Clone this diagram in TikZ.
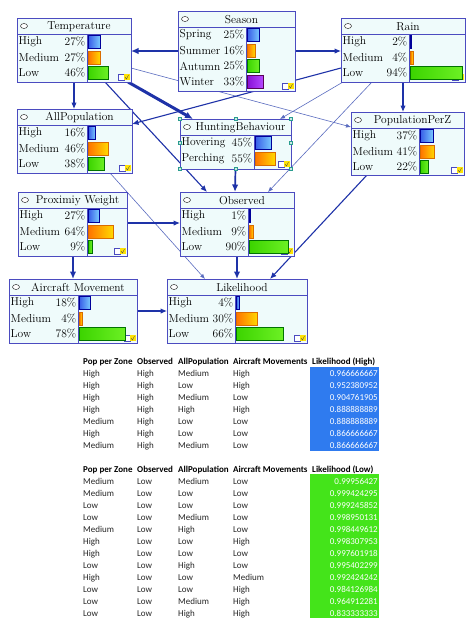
\documentclass[tikz,border=0pt]{standalone}
\usepackage{fontspec}
\newfontfamily\tabfont{Carlito}
\usetikzlibrary{arrows.meta,calc}
\definecolor{bnborder}{HTML}{4B4BC0}
\definecolor{bnfill}{HTML}{EFFBFB}
\definecolor{edgec}{HTML}{1E32A8}
\definecolor{thinc}{HTML}{5A6CC0}
\definecolor{hA}{HTML}{3A5FE8}
\definecolor{hB}{HTML}{78C8FF}
\definecolor{mA}{HTML}{FF7400}
\definecolor{mB}{HTML}{FFD800}
\definecolor{lA}{HTML}{3CD400}
\definecolor{lB}{HTML}{6CF024}
\definecolor{pA}{HTML}{8A10D8}
\definecolor{pB}{HTML}{B448FF}
\definecolor{tblue}{HTML}{2F7BEF}
\definecolor{tgreen}{HTML}{44E41A}
\definecolor{handle}{HTML}{2A9D8F}
\pgfdeclarelayer{bg}
\pgfdeclarelayer{edges}
\pgfsetlayers{bg,edges,main}
\tikzset{
  bnbox/.style={draw=bnborder, fill=bnfill, line width=0.9pt, inner sep=0pt, outer sep=0pt, rectangle},
  bnline/.style={draw=bnborder, line width=0.9pt},
  bnfont/.style={font=\fontsize{11.5}{12}\selectfont},
  rowlab/.style={bnfont, anchor=west, inner sep=0pt},
  rowpct/.style={bnfont, anchor=east, inner sep=0pt},
  titlest/.style={bnfont, inner sep=0pt},
  ovalst/.style={draw=black!80, fill=white, line width=0.5pt},
  barH/.style={draw=blue!60!black, line width=0.4pt, left color=hA, right color=hB},
  barM/.style={draw=orange!85!black, line width=0.4pt, left color=mA, right color=mB},
  barL/.style={draw=green!45!black, line width=0.4pt, left color=lA, right color=lB},
  barP/.style={draw=violet!70!black, line width=0.4pt, left color=pA, right color=pB},
  handlest/.style={draw=handle, fill=handle!25, line width=0.4pt},
  edgeThin/.style={draw=thinc, line width=0.6pt, -{Latex[length=5pt,width=4pt]}},
  edgeMed/.style={draw=edgec, line width=1.1pt, -{Latex[length=6.5pt,width=5.5pt]}},
  edgeBig/.style={draw=edgec, line width=1.7pt, -{Latex[length=7.5pt,width=6.5pt]}},
  edgeHuge/.style={draw=edgec, line width=3pt, -{Latex[length=8pt,width=7pt]}},
  thead/.style={font=\tabfont\bfseries\fontsize{9}{10}\selectfont, anchor=base west, inner sep=0pt},
  tcell/.style={font=\tabfont\fontsize{9}{10}\selectfont, text=black!85, anchor=base west, inner sep=0pt},
  tval/.style={font=\tabfont\fontsize{9}{10}\selectfont, text=white, anchor=base east, inner sep=0pt},
}
% box: #1 name, #2 x, #3 y, #4 W, #5 H, #6 label column, #7 full bar width, #8 title
\newcommand\bnbox[8]{%
  \def\bnL{#6}\def\bnF{#7}%
  \node[bnbox, minimum width=#4pt, minimum height=#5pt, anchor=north west] (#1) at (#2,#3) {};%
  \begin{scope}[shift={(#2,#3)}]%
  \draw[bnline] (0,16) -- (#4,16);%
  \draw[bnline] (#6,16) -- (#6,#5);%
  \draw[ovalst] (7,8) ellipse (3.5 and 2.5);%
  \node[titlest] (#1-title) at (#4/2+5,8.5) {#8};%
  \draw[draw=bnborder, fill=white, line width=0.5pt] (#4-13,#5-8) rectangle (#4-7,#5-2);%
  \fill[yellow!85!orange] (#4-7,#5-8) rectangle (#4-1.5,#5-2);%
  \draw[black!70, line width=0.4pt] (#4-6,#5-5) -- (#4-4.5,#5-3) -- (#4-2.5,#5-7);%
}
\newcommand\bnend{\end{scope}}
\newcommand\bnrow[4]{%
  \pgfmathsetmacro\bnyc{24+15.5*#1}%
  \pgfmathsetmacro\bnbw{max(#3*\bnF/100,0.7)}%
  \node[rowlab] at (1.5,\bnyc) {#2};%
  \node[rowpct] at (\bnL-1.5,\bnyc) {#3\%};%
  \draw[#4] (\bnL+1.5,\bnyc-6.5) rectangle ++(\bnbw,13);%
}
\begin{document}
\begin{tikzpicture}[x=1pt,y=-1pt]
\begin{pgfonlayer}{bg}
\fill[white] (0,0) rectangle (474,622);
\end{pgfonlayer}
\useasboundingbox (0,0) rectangle (474,622);

% ---------- network boxes ----------
\bnbox{temp}{17}{18}{114}{64}{70}{42}{Temperature}
 \bnrow{0}{High}{27}{barH}\bnrow{1}{Medium}{27}{barM}\bnrow{2}{Low}{46}{barL}
\bnend
\bnbox{season}{178}{11}{117}{80}{68}{47}{Season}
 \bnrow{0}{Spring}{25}{barH}\bnrow{1}{Summer}{16}{barM}\bnrow{2}{Autumn}{25}{barL}\bnrow{3}{Winter}{33}{barP}
\bnend
\bnbox{rain}{341}{18}{124}{64}{68}{55}{Rain}
 \bnrow{0}{High}{2}{barH}\bnrow{1}{Medium}{4}{barM}\bnrow{2}{Low}{94}{barL}
\bnend
\bnbox{allpop}{17}{109}{115}{64}{70}{42}{AllPopulation}
 \bnrow{0}{High}{16}{barH}\bnrow{1}{Medium}{46}{barM}\bnrow{2}{Low}{38}{barL}
\bnend
\bnbox{hunt}{180}{119}{111}{50}{74}{35}{HuntingBehaviour}
 \bnrow{0}{Hovering}{45}{barH}\bnrow{1}{Perching}{55}{barM}
 \foreach \hx/\hy in {0/0,55.5/0,111/0,0/24,111/24,0/50,55.5/50,111/50}
   \draw[handlest] (\hx-1.6,\hy-1.6) rectangle (\hx+1.6,\hy+1.6);
\bnend
\bnbox{popz}{351}{112}{113}{63}{68}{34}{PopulationPerZ}
 \bnrow{0}{High}{37}{barH}\bnrow{1}{Medium}{41}{barM}\bnrow{2}{Low}{22}{barL}
\bnend
\bnbox{prox}{18}{192}{109}{64}{69}{38}{Proximiy Weight}
 \bnrow{0}{High}{27}{barH}\bnrow{1}{Medium}{64}{barM}\bnrow{2}{Low}{9}{barL}
\bnend
\bnbox{obs}{180}{192}{114}{64}{68}{43}{Observed}
 \bnrow{0}{High}{1}{barH}\bnrow{1}{Medium}{9}{barM}\bnrow{2}{Low}{90}{barL}
\bnend
\bnbox{air}{9}{279}{128}{64}{69}{59}{Aircraft Movement}
 \bnrow{0}{High}{18}{barH}\bnrow{1}{Medium}{4}{barM}\bnrow{2}{Low}{78}{barL}
\bnend
\bnbox{lik}{167}{279}{140}{64}{68}{70}{Likelihood}
 \bnrow{0}{High}{4}{barH}\bnrow{1}{Medium}{30}{barM}\bnrow{2}{Low}{66}{barL}
\bnend

% ---------- connectors ----------
\begin{pgfonlayer}{edges}
\draw[edgeBig]  ($(season.north west)+(0,40)$) -- ($(temp.north west)+(114,33)$);
\draw[edgeMed]  ($(season.north west)+(117,40)$) -- ($(rain.north west)+(0,33)$);
\draw[edgeMed]  ($(temp.north west)+(57,64)$) -- ($(allpop.north west)+(57,0)$);
\draw[edgeHuge] ($(temp.north west)+(111,64)$) -- ($(hunt.north west)+(13,0)$);
\draw[edgeMed]  ($(temp.north west)+(88,64)$) -- ($(obs.north west)+(27,0)$);
\draw[edgeThin] ($(temp.north west)+(114,50)$) -- ($(popz.north west)+(0,15)$);
\draw[edgeMed]  ($(rain.north west)+(0,50)$) -- ($(allpop.north west)+(115,15)$);
\draw[edgeThin] ($(rain.north west)+(2,64)$) -- ($(hunt.north west)+(100,0)$);
\draw[edgeMed]  ($(rain.north west)+(62,64)$) -- ($(popz.north west)+(52,0)$);
\draw[edgeThin] ($(rain.north west)+(31,64)$) -- ($(obs.north west)+(88,0)$);
\draw[edgeBig]  ($(hunt.north west)+(55.5,50)$) -- ($(obs.north west)+(55,0)$);
\draw[edgeThin] ($(allpop.north west)+(93,64)$) -- ($(lik.north west)+(38,0)$);
\draw[edgeMed]  ($(prox.north west)+(109,31)$) -- ($(obs.north west)+(0,31)$);
\draw[edgeBig]  ($(prox.north west)+(55,64)$) -- ($(air.north west)+(64,0)$);
\draw[edgeMed]  ($(air.north west)+(128,32)$) -- ($(lik.north west)+(0,32)$);
\draw[edgeBig]  ($(obs.north west)+(57,64)$) -- ($(lik.north west)+(70,0)$);
\draw[edgeMed]  ($(popz.north west)+(16,63)$) -- ($(lik.north west)+(103,0)$);
\end{pgfonlayer}

% ---------- table 1 ----------
\fill[tblue] (310,367) rectangle (379,451);
\node[thead] (h1a) at (83,364) {Pop per Zone};
\node[thead] (h1b) at (137,364) {Observed};
\node[thead] (h1c) at (178,364) {AllPopulation};
\node[thead] (h1d) at (233,364) {Aircraft Movements};
\node[thead] (h1e) at (312,364) {Likelihood (High)};
\foreach [count=\i from 0] \a/\b/\c/\d/\v in {
  High/High/Medium/High/0.966666667,
  High/High/Low/High/0.952380952,
  High/High/Medium/Low/0.904761905,
  High/High/High/High/0.888888889,
  Medium/High/Low/Low/0.888888889,
  High/High/Low/Low/0.866666667,
  Medium/High/Medium/Low/0.866666667}{
  \pgfmathsetmacro\ty{376+12*\i}
  \node[tcell] at (83,\ty) {\a};
  \node[tcell] at (137,\ty) {\b};
  \node[tcell] at (178,\ty) {\c};
  \node[tcell] at (233,\ty) {\d};
  \node[tval] at (378,\ty) {\v};
}

% ---------- table 2 ----------
\fill[tgreen] (310,474) rectangle (379,618);
\node[thead] (h2a) at (83,472) {Pop per Zone};
\node[thead] (h2b) at (137,472) {Observed};
\node[thead] (h2c) at (178,472) {AllPopulation};
\node[thead] (h2d) at (233,472) {Aircraft Movements};
\node[thead] (h2e) at (312,472) {Likelihood (Low)};
\foreach [count=\i from 0] \a/\b/\c/\d/\v in {
  Medium/Low/Medium/Low/0.99956427,
  Medium/Low/Low/Low/0.999424295,
  Low/Low/Low/Low/0.999245852,
  Low/Low/Medium/Low/0.998950131,
  Medium/Low/High/Low/0.998449612,
  High/Low/Low/High/0.998307953,
  High/Low/Low/Low/0.997601918,
  Low/Low/High/Low/0.995402299,
  High/Low/Low/Medium/0.992424242,
  Low/Low/Low/High/0.984126984,
  Low/Low/Medium/High/0.964912281,
  Low/Low/High/High/0.833333333}{
  \pgfmathsetmacro\ty{484+12*\i}
  \node[tcell] at (83,\ty) {\a};
  \node[tcell] at (137,\ty) {\b};
  \node[tcell] at (178,\ty) {\c};
  \node[tcell] at (233,\ty) {\d};
  \node[tval] at (378,\ty) {\v};
}
\end{tikzpicture}
\end{document}
